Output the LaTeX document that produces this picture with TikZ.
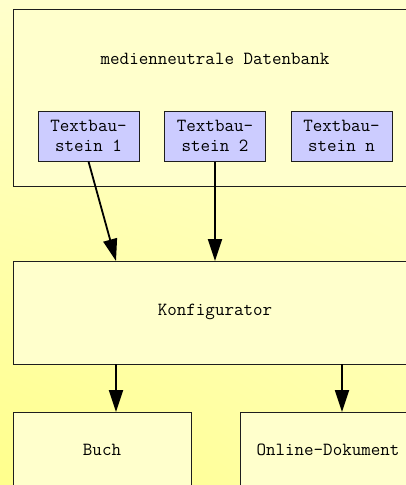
\documentclass[tikz,border=0pt]{standalone}
\usepackage{fontspec}
\usepackage{tikz}
\usetikzlibrary{arrows.meta,shadings}
\definecolor{paleyellow}{RGB}{255, 255, 204}
\definecolor{deepyellow}{RGB}{255, 255, 140}
\definecolor{midyellow}{RGB}{255, 255, 170}
\definecolor{blocklilac}{RGB}{204, 204, 255}
\definecolor{framegrey}{RGB}{30, 30, 30}

\tikzset{
  box/.style={draw=framegrey, line width=1pt, fill=paleyellow, inner sep=0pt},
  block/.style={draw=framegrey, line width=1pt, fill=blocklilac, align=center,
    minimum width=101pt, minimum height=50pt, inner sep=0pt},
  flow/.style={line width=1.8pt, -{Triangle[length=22pt, width=14pt]}},
  label/.style={font=\ttfamily\fontsize{18.5}{20.5}\selectfont}
}

\begin{document}
\begin{tikzpicture}[x=1pt, y=-1pt, every node/.append style={label}]
\useasboundingbox (0,0) rectangle (406,485);
\clip (0,0) rectangle (406,485);

% background
\shade[upper left=paleyellow, upper right=paleyellow,
       lower left=deepyellow, lower right=midyellow] (0,0) rectangle (406,485);

% database with its text blocks
\node[box, anchor=north west, minimum width=420pt, minimum height=177pt] (db) at (13,9) {};
\node (dbtext) at (215,59) {medienneutrale Datenbank};
\node[block] (tb1) at (88.5,136) {Textbau-\\stein 1};
\node[block] (tb2) at (215,136) {Textbau-\\stein 2};
\node[block] (tbn) at (341.5,136) {Textbau-\\stein n};

% configurator
\node[box, anchor=north west, minimum width=420pt, minimum height=103pt] (konf) at (13,261) {};
\node (konftext) at (215,312) {Konfigurator};

% outputs
\node[box, anchor=north west, minimum width=178pt, minimum height=100pt] (buch) at (13,412) {};
\node (buchtext) at (102,450) {Buch};
\node[box, anchor=north west, minimum width=200pt, minimum height=100pt] (online) at (240,412) {};
\node (onlinetext) at (328,450) {Online-Dokument};

% arrows
\coordinate (in1) at (116,261);
\coordinate (out1) at (116,364);
\coordinate (out2) at (342,364);
\draw[flow] (tb1.south) -- (in1);
\draw[flow] (tb2.south) -- (tb2.south |- konf.north);
\draw[flow] (out1) -- (out1 |- buch.north);
\draw[flow] (out2) -- (out2 |- online.north);
\end{tikzpicture}
\end{document}
